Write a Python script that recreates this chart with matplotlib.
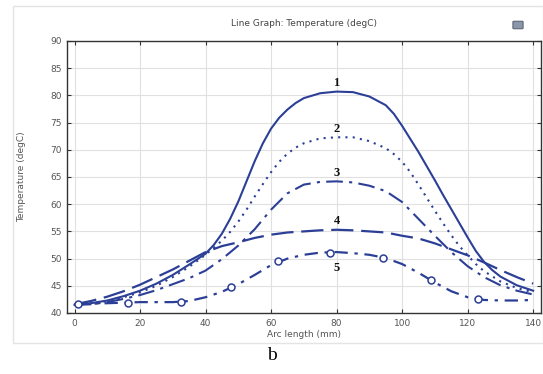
import matplotlib
matplotlib.use("Agg")
import matplotlib.pyplot as plt
from matplotlib.patches import Rectangle, FancyBboxPatch

# arc length positions (mm) where values were read
arc_mm = [0, 5, 10, 15, 20, 25, 30, 35, 40, 45, 50, 55, 60, 65, 70,
          75, 80, 85, 90, 95, 100, 105, 110, 115, 120, 125, 130, 135, 140]

# curves 1 and 2 are steep, so they were read more densely
arc_mm_1 = [0, 5, 10, 15, 20, 25, 30, 35, 40, 42.5, 45, 47.5, 50, 52.5, 55,
            57.5, 60, 62.5, 65, 67.5, 70, 75, 80, 85, 90, 95, 97.5, 100,
            102.5, 105, 107.5, 110, 112.5, 115, 117.5, 120, 122.5, 125,
            127.5, 130, 135, 140]
temp_1 = [41.5, 41.8, 42.3, 43.1, 44.1, 45.4, 47.0, 48.9, 50.9, 52.5, 54.6,
          57.3, 60.5, 64.2, 67.9, 71.2, 73.9, 75.9, 77.4, 78.6, 79.5, 80.4,
          80.7, 80.6, 79.8, 78.2, 76.6, 74.4, 72.0, 69.6, 67.0, 64.4, 61.7,
          59.1, 56.5, 53.9, 51.4, 49.4, 47.9, 46.7, 45.1, 44.1]

arc_mm_2 = [0, 5, 10, 15, 20, 25, 30, 35, 40, 45, 47.5, 50, 52.5, 55, 57.5,
            60, 62.5, 65, 67.5, 70, 75, 80, 85, 90, 95, 97.5, 100, 102.5,
            105, 107.5, 110, 112.5, 115, 117.5, 120, 122.5, 125, 130, 135,
            140]
temp_2 = [41.5, 41.7, 42.2, 42.9, 43.8, 45.0, 46.6, 48.5, 50.7, 53.3, 54.9,
          56.8, 59.0, 61.4, 63.7, 65.9, 67.8, 69.3, 70.4, 71.2, 72.1, 72.3,
          72.3, 71.6, 70.3, 69.2, 67.8, 65.9, 63.6, 61.2, 58.8, 56.5, 54.3,
          52.3, 50.6, 49.0, 47.7, 45.8, 44.6, 43.8]

temp_3 = [41.5, 41.6, 42.0, 42.6, 43.3, 44.2, 45.3, 46.4, 47.8, 49.9, 52.4,
          55.4, 59.0, 62.0, 63.6, 64.1, 64.2, 64.0, 63.4, 62.4, 60.4, 57.3,
          54.2, 51.2, 48.6, 46.6, 45.1, 44.1, 43.4]
temp_4 = [41.6, 42.2, 43.0, 44.0, 45.2, 46.6, 48.0, 49.6, 51.2, 52.3, 53.0,
          53.8, 54.4, 54.8, 55.0, 55.2, 55.3, 55.2, 55.0, 54.8, 54.2, 53.7,
          52.8, 51.7, 50.6, 49.3, 47.9, 46.6, 45.4]
temp_5 = [41.6, 41.7, 41.8, 41.9, 42.0, 42.0, 42.0, 42.2, 42.9, 43.9, 45.3,
          47.0, 48.8, 50.0, 50.7, 51.1, 51.2, 51.0, 50.7, 50.1, 49.0, 47.4,
          45.6, 44.0, 42.9, 42.4, 42.3, 42.3, 42.4]

# circle markers on curve 5
marker_mm = [1, 16.2, 32.4, 47.8, 62.2, 78, 94.3, 108.9, 123.3]
marker_temp = [41.6, 41.9, 42.0, 44.7, 49.6, 51.1, 50.2, 46.0, 42.5]

curve_labels = ["1", "2", "3", "4", "5"]
label_temp = [82.3, 73.9, 65.8, 57.0, 48.2]

x_ticks = [0, 20, 40, 60, 80, 100, 120, 140]
y_ticks = [40, 45, 50, 55, 60, 65, 70, 75, 80, 85, 90]

blue = "#2c3f96"
W, H = 543, 374

fig = plt.figure(figsize=(W / 100, H / 100), dpi=100)
fig.patch.set_facecolor("white")

# light panel frame around the graph window
fig.patches.append(Rectangle((13 / W, 1 - 343 / H), 530 / W, 337 / H,
                             transform=fig.transFigure, fill=False,
                             edgecolor="#e4e4e4", linewidth=1))
# little export icon in the corner
fig.patches.append(FancyBboxPatch((514 / W, 1 - 28 / H), 8 / W, 6 / H,
                                  boxstyle="round,pad=0.002",
                                  transform=fig.transFigure,
                                  facecolor="#8a97aa", edgecolor="#5c6677",
                                  linewidth=0.8))

ax = fig.add_axes([67 / W, 1 - 313 / H, 474 / W, 272 / H])

ax.plot(arc_mm_1, temp_1, color=blue, linewidth=1.5, linestyle="-")
ax.plot(arc_mm_2, temp_2, color=blue, linewidth=1.5, linestyle=(0, (1, 2.5)))
ax.plot(arc_mm, temp_3, color=blue, linewidth=1.5,
        linestyle=(0, (8, 3, 1.5, 3)))
ax.plot(arc_mm, temp_4, color=blue, linewidth=1.6, linestyle=(0, (10, 3.5)))
ax.plot(arc_mm, temp_5, color=blue, linewidth=1.6,
        linestyle=(0, (6, 3, 1.5, 3)))
ax.plot(marker_mm, marker_temp, linestyle="none", marker="o",
        markersize=5, markerfacecolor="white", markeredgecolor=blue,
        markeredgewidth=1.1)

for lab, t in zip(curve_labels, label_temp):
    ax.text(80, t, lab, ha="center", va="center", fontsize=9,
            fontweight="bold", family="Liberation Serif", color="#111111")

ax.set_xlim(-2.3, 142.4)
ax.set_ylim(40, 90)
ax.set_xticks(x_ticks)
ax.set_yticks(y_ticks)
ax.grid(True, color="#e0e0e0", linewidth=0.8)
ax.set_axisbelow(True)
ax.tick_params(direction="in", length=3, width=0.8, top=True, right=True,
               labelsize=6.5, labelcolor="#555555", color="#333333", pad=4)
for sp in ax.spines.values():
    sp.set_color("#333333")
    sp.set_linewidth(1.0)

ax.set_title("Line Graph: Temperature (degC)", fontsize=6.5, color="#444444",
             pad=11)
ax.set_xlabel("Arc length (mm)", fontsize=6.5, color="#555555", labelpad=2)
ax.set_ylabel("Temperature (degC)", fontsize=6.5, color="#555555",
              labelpad=17)

fig.text(272 / W, 1 - 356 / H, "b", ha="center", va="center",
         fontsize=14, family="Liberation Serif", color="black")

fig.savefig("out.png", dpi=100, facecolor="white")
